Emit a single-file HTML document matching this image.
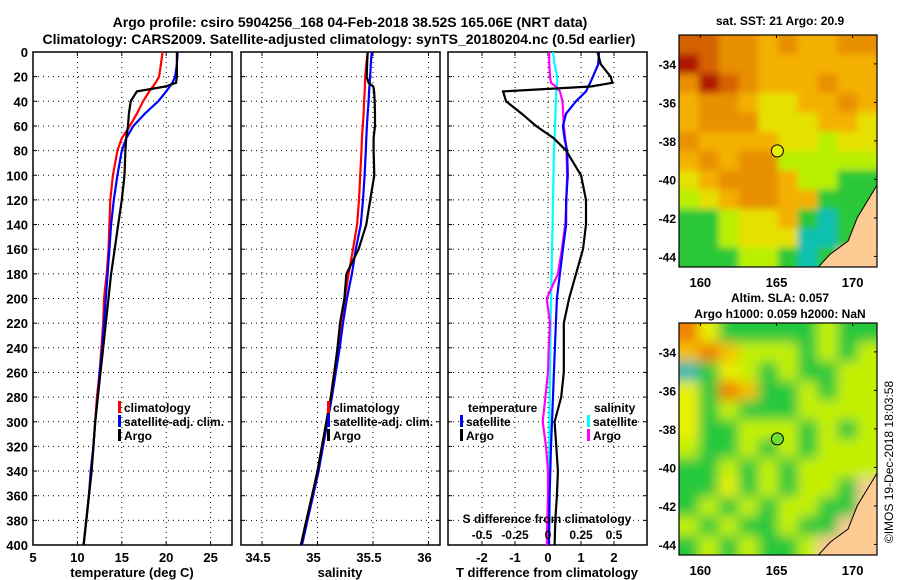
<!DOCTYPE html>
<html><head><meta charset="utf-8"><style>
body{margin:0;background:#fff}
svg{display:block;font-family:"Liberation Sans",Arial,sans-serif;font-weight:bold}
</style></head><body>
<svg id="fig" width="900" height="580" viewBox="0 0 900 580" xmlns="http://www.w3.org/2000/svg">
<text x="350" y="27" font-size="14" text-anchor="middle">Argo profile: csiro 5904256_168 04-Feb-2018 38.52S 165.06E (NRT data)</text>
<text x="339" y="44" font-size="14" text-anchor="middle">Climatology: CARS2009. Satellite-adjusted climatology: synTS_20180204.nc (0.5d earlier)</text>
<g id="g"></g>
</svg>
<script>
const depth=[0,10,20,25,28,32,40,50,60,70,80,100,120,140,160,180,200,220,240,260,280,300,320,340,360,380,400];
const tClim=[19.6,19.4,19.2,18.8,18.5,18.1,17.4,16.7,15.9,15.0,14.5,14.0,13.7,13.6,13.5,13.3,13.0,12.9,12.7,12.5,12.2,12.0,11.8,11.6,11.3,11.0,10.7];
const tSat=[21.3,21.2,21.0,20.7,20.4,20.0,19.1,17.6,16.3,15.5,15.0,14.5,14.1,13.8,13.6,13.4,13.2,13.0,12.8,12.5,12.3,12.0,11.8,11.5,11.3,11.0,10.7];
const tArgo=[21.2,21.2,21.2,21.1,19.9,16.7,16.0,15.8,15.7,15.5,15.4,15.3,15.0,14.6,14.2,13.8,13.5,13.2,12.9,12.6,12.3,12.0,11.8,11.6,11.3,11.0,10.7];
const sClim=[35.452,35.44,35.43,35.428,35.427,35.425,35.42,35.415,35.408,35.40,35.396,35.385,35.374,35.357,35.32,35.28,35.245,35.215,35.185,35.15,35.12,35.08,35.04,35.00,34.95,34.90,34.85];
const sSat=[35.488,35.48,35.474,35.47,35.468,35.465,35.46,35.452,35.445,35.44,35.435,35.424,35.41,35.39,35.345,35.31,35.265,35.23,35.20,35.165,35.13,35.09,35.05,35.01,34.96,34.91,34.86];
const sArgo=[35.452,35.447,35.443,35.46,35.503,35.51,35.515,35.518,35.518,35.505,35.505,35.512,35.475,35.44,35.37,35.26,35.242,35.203,35.18,35.152,35.12,35.08,35.04,35.00,34.95,34.90,34.85];
const dtSat=[1.55,1.52,1.36,1.28,1.22,1.15,0.85,0.55,0.45,0.5,0.58,0.6,0.55,0.55,0.45,0.36,0.27,0.24,0.21,0.18,0.15,0.12,0.09,0.07,0.05,0.04,0.03];
const dtArgo=[1.5,1.6,1.9,1.95,1.3,-1.36,-1.27,-0.8,-0.36,0.18,0.55,1.0,1.15,1.15,1.06,0.85,0.64,0.48,0.48,0.48,0.4,0.2,0.25,0.3,0.27,0.22,0.2];
const dsSat=[0.038,0.05,0.07,0.07,0.066,0.062,0.06,0.057,0.053,0.05,0.045,0.042,0.038,0.035,0.03,0.027,0.023,0.02,0.018,0.015,0.013,0.011,0.01,0.008,0.007,0.006,0.005];
const dsArgo=[0.008,0.01,0.015,0.023,0.06,0.09,0.11,0.115,0.12,0.13,0.14,0.145,0.14,0.13,0.105,0.075,-0.01,0.015,0.005,0.0,-0.02,-0.04,-0.015,0.0,0.0,-0.005,-0.008];
const depthTicks=[0,20,40,60,80,100,120,140,160,180,200,220,240,260,280,300,320,340,360,380,400];
const tTicks=[5,10,15,20,25];
const sTicks=[34.5,35,35.5,36];
const dtTicks=[-2,-1,0,1,2];
const dsTicks=[-0.5,-0.25,0,0.25,0.5];
const dsTickLabels=["-0.5","-0.25","0","0.25","0.5"];
const latTicks=[-34,-36,-38,-40,-42,-44];
const lonTicks=[160,165,170];
const sstGrid=["1122323322","0122333333","2012333233","3223443323","3222444334","2333344544","3232255555","4322235566","5432233666","6654436766","6654447769","6665567699"];
const slaGrid=["2466666566","3235556565","7645656655","4623665655","4656665555","4665556565","5665656555","6656565555","6646565569","6565655669","5656656699","6565665999"];
const argoLon=165.06, argoLat=-38.52;

const NS='http://www.w3.org/2000/svg', G=document.getElementById('g');
function el(tag,attrs,parent,txt){const e=document.createElementNS(NS,tag);for(const k in attrs)e.setAttribute(k,attrs[k]);if(txt!==undefined)e.textContent=txt;(parent||G).appendChild(e);return e;}
const Y0=52,Y1=545; const yD=d=>Y0+(d/400)*(Y1-Y0);
const panels=[{x0:33,x1:232,name:'temperature-panel'},{x0:241,x1:440,name:'salinity-panel'},{x0:448,x1:647,name:'difference-panel'}];
const xT=t=>33+(t-5)*8.88, xS=s=>262+(s-34.5)*111, xDT=v=>548+v*33, xDS=v=>548+v*132;
const vgrids=[tTicks.map(xT),sTicks.map(xS),dtTicks.map(xDT)];
panels.forEach((p,i)=>{
  const g=el('g',{});
  depthTicks.forEach(d=>{el('line',{x1:p.x0,x2:p.x1,y1:yD(d),y2:yD(d),stroke:'#000','stroke-dasharray':'1,4'},g);
    el('line',{x1:p.x0,x2:p.x0+4,y1:yD(d),y2:yD(d),stroke:'#000'},g);el('line',{x1:p.x1-4,x2:p.x1,y1:yD(d),y2:yD(d),stroke:'#000'},g);});
  vgrids[i].forEach(x=>{el('line',{x1:x,x2:x,y1:Y0,y2:Y1,stroke:'#000','stroke-dasharray':'1,4'},g);
    el('line',{x1:x,x2:x,y1:Y1-4,y2:Y1,stroke:'#000'},g);el('line',{x1:x,x2:x,y1:Y0,y2:Y0+4,stroke:'#000'},g);});
  el('rect',{x:p.x0,y:Y0,width:p.x1-p.x0,height:Y1-Y0,fill:'none',stroke:'#000','stroke-width':1.5},g);
});
const yl=el('g',{});
depthTicks.forEach(d=>el('text',{x:28,y:yD(d)+5,'font-size':13,'text-anchor':'end'},yl,d));
function xlabels(ticks,fn,labels,y,name,dx){const g=el('g',{});
  ticks.forEach((t,i)=>el('text',{x:fn(t)+(dx||0),y:y,'font-size':13,'text-anchor':'middle'},g,labels?labels[i]:t));}
xlabels(tTicks,xT,null,562,'temperature-tick-labels');
xlabels(sTicks,xS,null,562,'salinity-tick-labels',-4);
xlabels(dtTicks,xDT,null,562,'t-difference-tick-labels');
el('text',{x:132,y:577,'font-size':13,'text-anchor':'middle',},G,'temperature (deg C)');
el('text',{x:340,y:577,'font-size':13,'text-anchor':'middle',},G,'salinity');
el('text',{x:547,y:577,'font-size':13,'text-anchor':'middle',},G,'T difference from climatology');
function line(vals,fn,color,name){const pts=vals.map((v,i)=>fn(v).toFixed(1)+','+yD(depth[i]).toFixed(1)).join(' ');
  const e=el('polyline',{points:pts,fill:'none',stroke:color,'stroke-width':2.2});
  
  }
line(tClim,xT,'#f00','temp-climatology-line');line(tSat,xT,'#00f','temp-satellite-line');line(tArgo,xT,'#000','temp-argo-line');
line(sClim,xS,'#f00','sal-climatology-line');line(sSat,xS,'#00f','sal-satellite-line');line(sArgo,xS,'#000','sal-argo-line');
line(dsSat,xDS,'#0ff','sdiff-satellite-line');line(dsArgo,xDS,'#f0f','sdiff-argo-line');
line(dtSat,xDT,'#00f','tdiff-satellite-line');line(dtArgo,xDT,'#000','tdiff-argo-line');
function leg(x,y,color,label,name){const g=el('g',{});
  if(color)el('rect',{x:x,y:y-11,width:3,height:12,fill:color},g);el('text',{x:x+(color?6:0),y:y,'font-size':12},g,label);}
leg(118,412,'#f00','climatology','legend-climatology');leg(118,426,'#00f','satellite-adj. clim.','legend-satellite-adj');leg(118,440,'#000','Argo','legend-argo');
leg(327,412,'#f00','climatology','legend2-climatology');leg(327,426,'#00f','satellite-adj. clim.','legend2-satellite-adj');leg(327,440,'#000','Argo','legend2-argo');
leg(468,412,null,'temperature','legend-temperature-head');leg(460,426,'#00f','satellite','legend-t-satellite');leg(460,440,'#000','Argo','legend-t-argo');
leg(594,412,null,'salinity','legend-salinity-head');leg(587,426,'#0ff','satellite','legend-s-satellite');leg(587,440,'#f0f','Argo','legend-s-argo');
el('text',{x:547,y:523,'font-size':12,'text-anchor':'middle',},G,'S difference from climatology');
const sg=el('g',{});
dsTicks.forEach((t,i)=>el('text',{x:xDS(t),y:539,'font-size':12,'text-anchor':'middle'},sg,dsTickLabels[i]));

// maps
const pal1={'0':'#b01800','1':'#d46000','2':'#e89000','3':'#f4b000','4':'#e6e000','5':'#b8f000','6':'#2cc838','7':'#10c0b0','9':'#fccb94'};
const pal2={'2':'#f08000','3':'#f4c000','4':'#e8f000','5':'#c4f000','6':'#28c83c','7':'#20b8b0','9':'#fccb94'};
const lon0=158.6,lon1=171.6,lat0=-32.5,lat1=-44.55;
function map(y0,grid,pal,name,circ,title,titleY,blurId){
  const x0=679,x1=877,y1=y0+232;
  const xL=l=>x0+(l-lon0)/(lon1-lon0)*(x1-x0), yL=l=>y0+(lat0-l)/(lat0-lat1)*(y1-y0);
  const g=el('g',{});
  const cid='c'+name;const cp=el('clipPath',{id:cid},g);el('rect',{x:x0,y:y0,width:x1-x0,height:y1-y0},cp);
  const cells=el('g',{'clip-path':'url(#'+cid+')'},g);
  const inner=el('g',{filter:'url(#'+blurId+')'},cells);
  const nr=grid.length,nc=grid[0].length,cw=(x1-x0)/nc,ch=(y1-y0)/nr,E=25;
  grid.forEach((row,r)=>[...row].forEach((v,c)=>{
    const l=x0+c*cw-(c==0?E:0), t=y0+r*ch-(r==0?E:0);
    const w=cw+0.5+(c==0?E:0)+(c==nc-1?E:0), h=ch+0.5+(r==0?E:0)+(r==nr-1?E:0);
    const e=el('rect',{x:l,y:t,width:w,height:h,fill:pal[v]},inner);
    
    }));
  el('polygon',{points:`${xL(171.6)},${yL(-40.3)} ${xL(170.3)},${yL(-42)} ${xL(169.7)},${yL(-43.2)} ${xL(168.5)},${yL(-43.9)} ${xL(167.7)},${yL(-44.6)} ${xL(171.6)},${yL(-44.6)}`,fill:'#fccb94',stroke:'#000','stroke-width':1},cells);
  el('circle',{cx:xL(argoLon),cy:yL(argoLat),r:6,fill:circ,stroke:'#000','stroke-width':1},g);
  el('rect',{x:x0,y:y0,width:x1-x0,height:y1-y0,fill:'none',stroke:'#000','stroke-width':1.2},g);
  latTicks.forEach(l=>{el('line',{x1:x1-3,x2:x1,y1:yL(l),y2:yL(l),stroke:'#000'},g);el('text',{x:676,y:yL(l)+5,'font-size':12,'text-anchor':'end'},g,l);});
  lonTicks.forEach(l=>{el('line',{x1:xL(l),x2:xL(l),y1:y0,y2:y0+3,stroke:'#000'},g);el('text',{x:xL(l),y:y1+20,'font-size':13,'text-anchor':'middle'},g,l);});
  title.forEach((t,i)=>el('text',{x:780,y:titleY[i],'font-size':12,'text-anchor':'middle'},g,t));
}
const defs=el('defs',{});
const f1=el('filter',{id:'bl1'},defs);el('feGaussianBlur',{stdDeviation:3.5},f1);
const f2=el('filter',{id:'bl2'},defs);el('feGaussianBlur',{stdDeviation:6},f2);
map(35,sstGrid,pal1,'sst-map','#e6f000',['sat. SST: 21 Argo: 20.9'],[25],'bl1');
map(323,slaGrid,pal2,'sla-map','#6ee030',['Altim. SLA: 0.057','Argo h1000: 0.059 h2000: NaN'],[302,318],'bl2');
el('text',{x:0,y:0,'font-size':12,'font-weight':'normal','text-anchor':'middle',transform:'translate(893,462) rotate(-90)',},G,'©IMOS 19-Dec-2018 18:03:58');
</script>
</body></html>
